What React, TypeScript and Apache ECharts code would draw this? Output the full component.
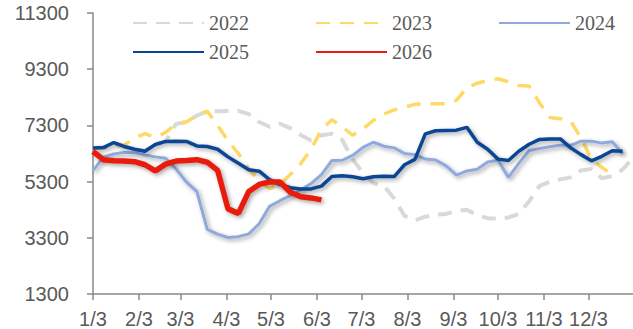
import React, { useEffect, useRef } from "react";
import * as echarts from "echarts";

// Daily categories from 1/3 through the following 1/2 (weekly data points every 7 days)
const days: string[] = Array.from({ length: 365 }, (_, i) => {
  const d = new Date(2025, 0, 3 + i);
  return `${d.getMonth() + 1}/${d.getDate()}`;
});

const yTicks = { min: 1300, max: 11300, step: 2000 };
const legendRow1 = ["2022", "2023", "2024"];
const legendRow2 = ["2025", "2026"];

const v2022 = [6500, 6510, 6650, 6550, 6450, 6400, 6620, 6730, 7350, 7420, 7650, 7800, 7800, 7810, 7820, 7700, 7420, 7250, 7360, 7200, 6960, 6760, 6950, 7000, 6780, 6100, 5600, 5250, 5150, 4700, 4080, 3920, 4050, 4120, 4150, 4250, 4300, 4100, 4000, 3980, 4020, 4150, 4600, 5150, 5290, 5380, 5450, 5700, 5750, 5420, 5500, 5730, 6150];
const v2023 = [6480, 6500, 6550, 6600, 6850, 7010, 6880, 7050, 7350, 7420, 7650, 7810, 7300, 6750, 6300, 5750, 5350, 5050, 5200, 5550, 5940, 6450, 7150, 7500, 7250, 6950, 7180, 7480, 7700, 7850, 7950, 8050, 8070, 8070, 8070, 8190, 8650, 8800, 8900, 8960, 8850, 8720, 8700, 8100, 7580, 7540, 7450, 6850, 6100, 5800, 5550];
const v2024 = [5690, 6170, 6280, 6340, 6330, 6250, 6180, 6130, 5750, 5280, 4950, 3600, 3430, 3310, 3340, 3440, 3800, 4420, 4620, 4800, 5000, 5230, 5550, 6050, 6060, 6230, 6520, 6700, 6560, 6500, 6300, 6260, 6100, 6070, 5860, 5530, 5680, 5740, 6000, 6060, 5450, 5950, 6400, 6480, 6540, 6590, 6590, 6740, 6740, 6670, 6720, 6300];
const v2025 = [6500, 6510, 6690, 6550, 6450, 6380, 6620, 6730, 6740, 6730, 6570, 6550, 6450, 6180, 5950, 5720, 5670, 5370, 5200, 5080, 5040, 5040, 5140, 5480, 5510, 5470, 5400, 5470, 5490, 5480, 5900, 6090, 7000, 7110, 7120, 7130, 7230, 6700, 6450, 6100, 6050, 6380, 6630, 6800, 6820, 6820, 6500, 6260, 6040, 6200, 6400, 6380];
const v2026 = [6370, 6080, 6040, 6030, 6010, 5900, 5680, 5920, 6030, 6050, 6080, 5990, 5700, 4330, 4170, 4950, 5200, 5290, 5290, 4920, 4760, 4720, 4650];

const weekStep = 7;
const toPoints = (vals: number[]) => vals.map((v, k) => [k * weekStep, v]);

const shadow = {
  shadowColor: "rgba(0,0,0,0.35)",
  shadowBlur: 4,
  shadowOffsetX: 2,
  shadowOffsetY: 2,
};

const isMonthTick = (_i: number, val: string) => val.split("/")[1] === "3";

export default function App() {
  const ref = useRef<HTMLDivElement>(null);
  useEffect(() => {
    if (!ref.current) return;
    const chart = echarts.init(ref.current, null, { renderer: "svg" });
    const legendText = {
      fontFamily: "Liberation Serif",
      fontSize: 20,
      color: "#595959",
    };
    const legendBase = {
      left: 127,
      itemWidth: 71,
      itemHeight: 14,
      itemGap: 66,
      itemStyle: { opacity: 0 },
      textStyle: legendText,
    };
    chart.setOption({
      animation: false,
      backgroundColor: "#ffffff",
      grid: { left: 93, right: 0, top: 13, bottom: 35, containLabel: false },
      legend: [
        { ...legendBase, data: legendRow1, top: 8 },
        { ...legendBase, data: legendRow2, top: 37 },
      ],
      xAxis: {
        type: "category",
        data: days,
        boundaryGap: false,
        axisLine: { lineStyle: { color: "#898989", width: 1.5 } },
        axisTick: {
          interval: isMonthTick,
          length: 6,
          lineStyle: { color: "#898989", width: 1.5 },
        },
        axisLabel: {
          interval: isMonthTick,
          margin: 15,
          fontSize: 20,
          color: "#595959",
          fontFamily: "Liberation Sans",
        },
        splitLine: { show: false },
      },
      yAxis: {
        type: "value",
        min: yTicks.min,
        max: yTicks.max,
        interval: yTicks.step,
        axisLine: { show: true, lineStyle: { color: "#898989", width: 1.5 } },
        axisTick: { show: true, length: 6, lineStyle: { color: "#898989", width: 1.5 } },
        axisLabel: {
          margin: 24,
          fontSize: 20,
          color: "#595959",
          fontFamily: "Liberation Sans",
          formatter: (v: number) => String(v),
        },
        splitLine: { show: false },
      },
      series: [
        {
          name: "2022",
          type: "line",
          symbol: "none",
          data: toPoints(v2022),
          lineStyle: { color: "#D9D9D9", width: 4, type: [14, 9] },
          itemStyle: { color: "#D9D9D9" },
        },
        {
          name: "2023",
          type: "line",
          symbol: "none",
          data: toPoints(v2023),
          lineStyle: { color: "#FFD966", width: 3.5, type: [14, 10] },
          itemStyle: { color: "#FFD966" },
        },
        {
          name: "2024",
          type: "line",
          symbol: "none",
          data: toPoints(v2024),
          lineStyle: { color: "#8EA9DB", width: 3, ...shadow },
          itemStyle: { color: "#8EA9DB" },
        },
        {
          name: "2025",
          type: "line",
          symbol: "none",
          data: toPoints(v2025),
          lineStyle: { color: "#0A4595", width: 3.5, ...shadow },
          itemStyle: { color: "#0A4595" },
        },
        {
          name: "2026",
          type: "line",
          symbol: "none",
          data: toPoints(v2026),
          lineStyle: { color: "#E81B10", width: 5.5, ...shadow },
          itemStyle: { color: "#E81B10" },
        },
      ],
    });
    return () => chart.dispose();
  }, []);
  return (
    <div
      ref={ref}
      style={{ position: "absolute", left: 0, top: 0, width: 633, height: 329 }}
    />
  );
}
